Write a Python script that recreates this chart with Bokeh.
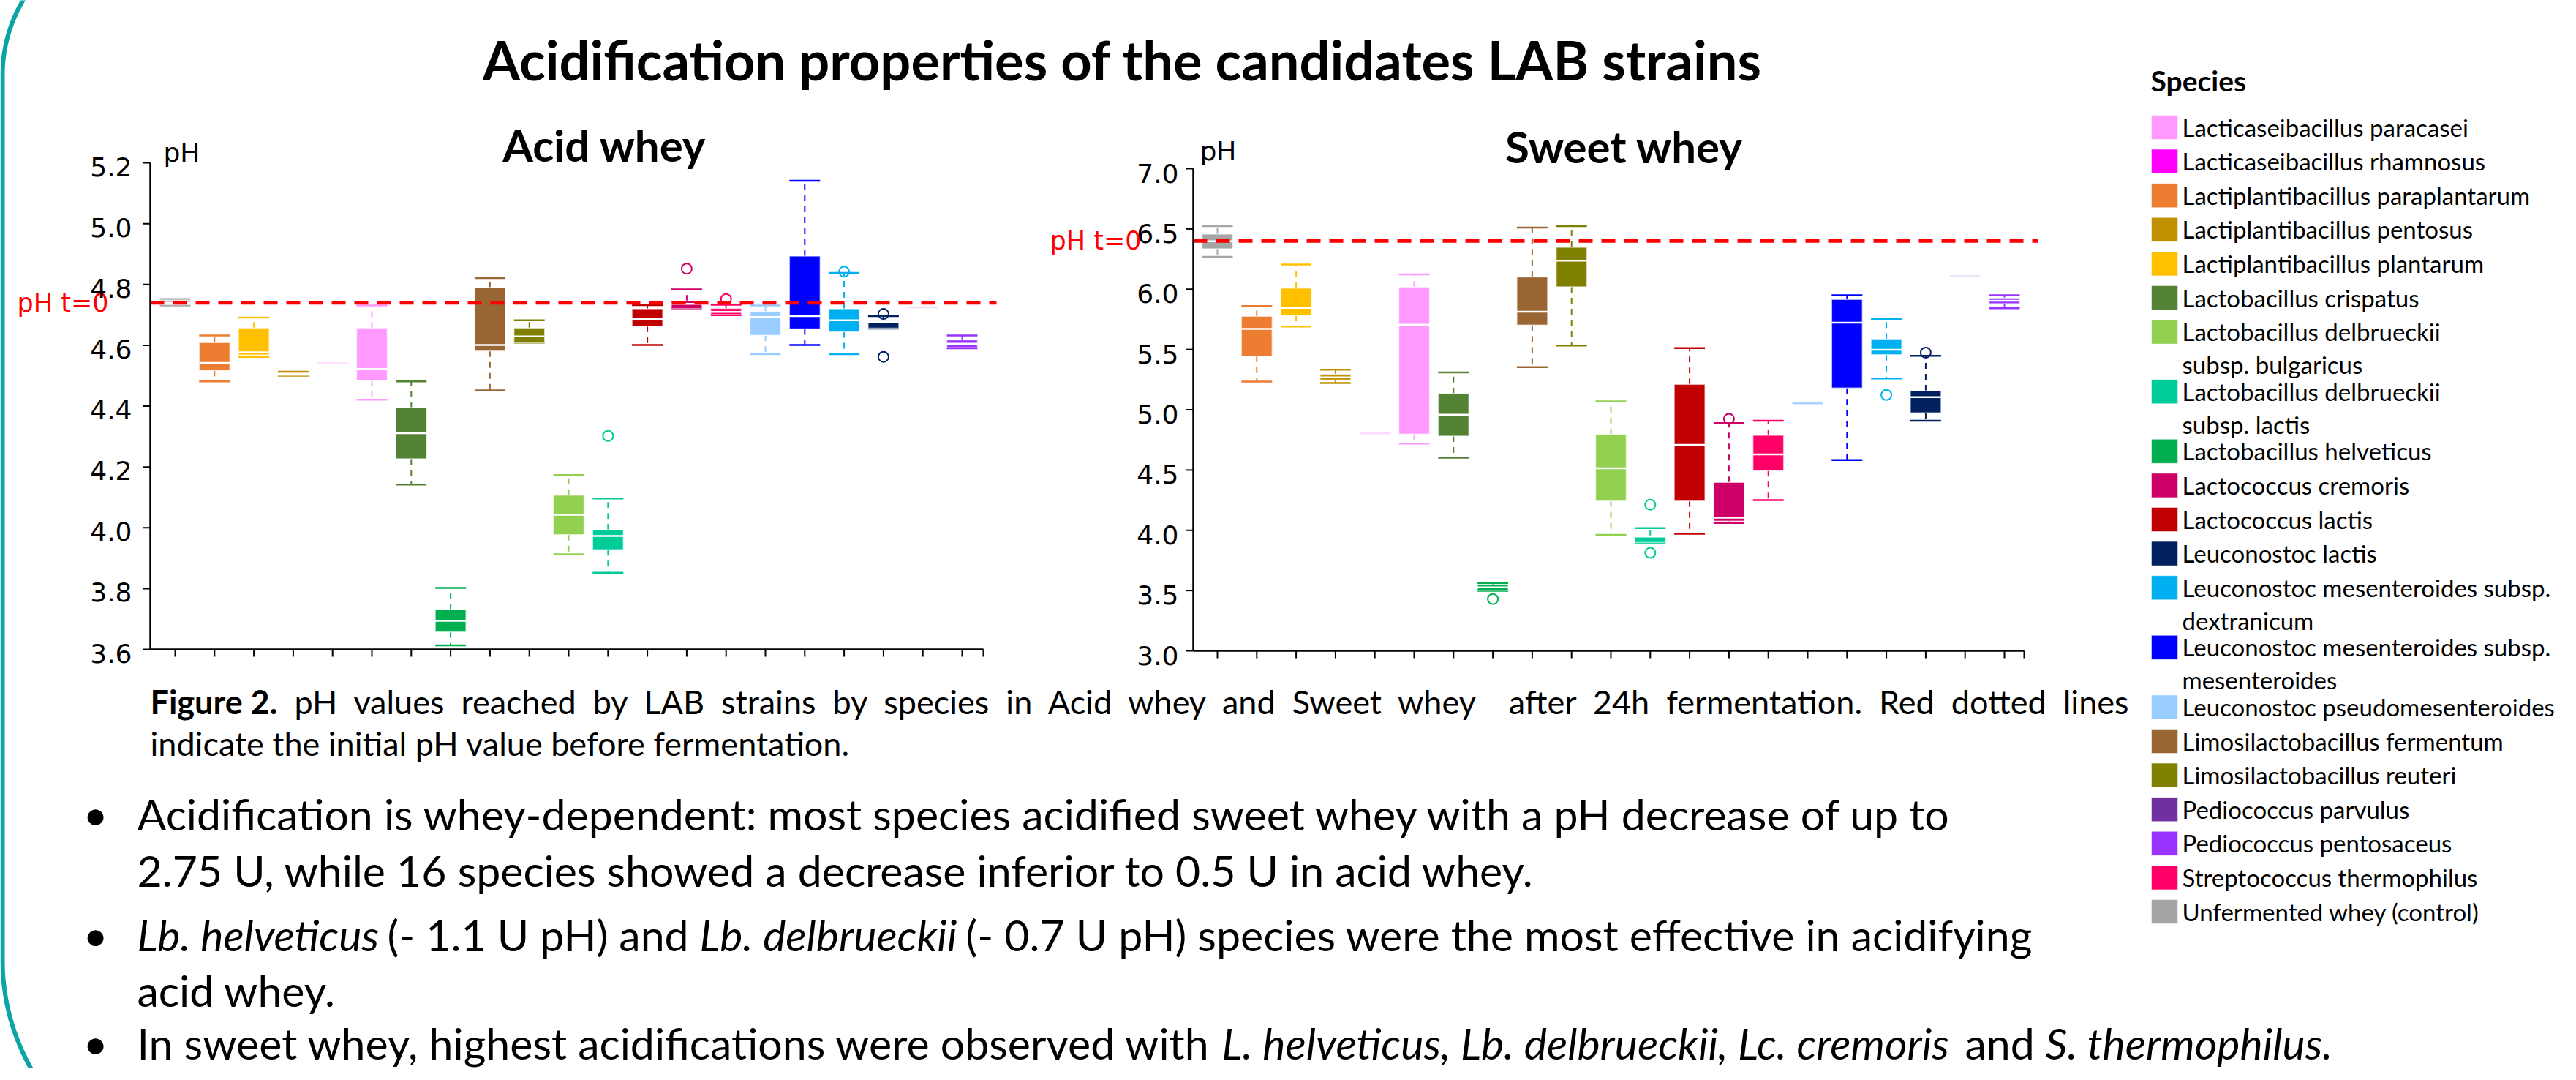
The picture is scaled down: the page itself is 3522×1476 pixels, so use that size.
import numpy as np
from bokeh.plotting import figure
from bokeh.models import Range1d, ColumnDataSource
from bokeh.core.properties import value
from bokeh.embed import file_html
from bokeh.resources import INLINE

# ------------------------------------------------------------------ data
legend_labels = [
    "Lacticaseibacillus paracasei", "Lacticaseibacillus rhamnosus",
    "Lactiplantibacillus paraplantarum", "Lactiplantibacillus pentosus",
    "Lactiplantibacillus plantarum", "Lactobacillus crispatus",
    "Lactobacillus delbrueckii\nsubsp. bulgaricus", "Lactobacillus delbrueckii\nsubsp. lactis",
    "Lactobacillus helveticus", "Lactococcus cremoris", "Lactococcus lactis",
    "Leuconostoc lactis", "Leuconostoc mesenteroides subsp.\ndextranicum",
    "Leuconostoc mesenteroides subsp.\nmesenteroides", "Leuconostoc pseudomesenteroides",
    "Limosilactobacillus fermentum", "Limosilactobacillus reuteri", "Pediococcus parvulus",
    "Pediococcus pentosaceus", "Streptococcus thermophilus", "Unfermented whey (control)",
]
legend_colors = [
    "#FF99FF", "#FF00FF", "#ED7D31", "#BF9000", "#FFC000", "#548235", "#92D050",
    "#00CC99", "#00B050", "#CC0066", "#C00000", "#002060", "#00B0F0", "#0000FF",
    "#99CCFF", "#996633", "#808000", "#7030A0", "#9933FF", "#FF0066", "#A5A5A5",
]
# species in the order of the x axis (positions 1..21), same for both wheys
chart_species = [
    "Unfermented whey (control)", "Lactiplantibacillus paraplantarum",
    "Lactiplantibacillus plantarum", "Lactiplantibacillus pentosus",
    "Lacticaseibacillus rhamnosus", "Lacticaseibacillus paracasei",
    "Lactobacillus crispatus", "Lactobacillus helveticus",
    "Limosilactobacillus fermentum", "Limosilactobacillus reuteri",
    "Lactobacillus delbrueckii subsp. bulgaricus", "Lactobacillus delbrueckii subsp. lactis",
    "Lactococcus lactis", "Lactococcus cremoris", "Streptococcus thermophilus",
    "Leuconostoc pseudomesenteroides", "Leuconostoc mesenteroides subsp. mesenteroides",
    "Leuconostoc mesenteroides subsp. dextranicum", "Leuconostoc lactis",
    "Pediococcus parvulus", "Pediococcus pentosaceus",
]

acid_lower  = [4.731, 4.481, 4.562, 4.500, 4.541, 4.421, 4.142, 3.613, 4.452, 4.609, 3.913,
               3.852, 4.601, 4.720, 4.699, 4.571, 4.601, 4.571, 4.655, 4.725, 4.590]
acid_q1     = [4.733, 4.517, 4.568, 4.501, 4.541, 4.484, 4.227, 3.657, 4.581, 4.609, 3.977,
               3.928, 4.663, 4.720, 4.701, 4.633, 4.654, 4.644, 4.656, 4.725, 4.592]
acid_median = [4.740, 4.542, 4.577, 4.505, 4.541, 4.522, 4.311, 3.694, 4.601, 4.629, 4.043,
               3.973, 4.687, 4.736, 4.710, 4.693, 4.696, 4.682, 4.677, 4.725, 4.605]
acid_q3     = [4.748, 4.609, 4.657, 4.510, 4.541, 4.657, 4.395, 3.731, 4.790, 4.657, 4.107,
               3.993, 4.720, 4.746, 4.721, 4.711, 4.893, 4.720, 4.680, 4.725, 4.618]
acid_upper  = [4.752, 4.632, 4.691, 4.513, 4.541, 4.731, 4.481, 3.802, 4.821, 4.682, 4.173,
               4.096, 4.732, 4.784, 4.733, 4.731, 5.141, 4.838, 4.696, 4.725, 4.632]
acid_outlier_pos = [12, 14, 15, 18, 19, 19]
acid_outlier_ph  = [4.302, 4.852, 4.752, 4.842, 4.703, 4.562]
acid_initial_ph = 4.74
acid_yticks = [3.6, 3.8, 4.0, 4.2, 4.4, 4.6, 4.8, 5.0, 5.2]

sweet_lower  = [6.269, 5.234, 5.690, 5.222, 4.804, 4.719, 4.602, 3.497, 5.354, 5.532, 3.962,
                3.895, 3.971, 4.061, 4.251, 5.053, 4.582, 5.260, 4.909, 6.108, 5.842]
sweet_q1     = [6.336, 5.444, 5.781, 5.246, 4.804, 4.798, 4.781, 3.503, 5.702, 6.020, 4.243,
                3.898, 4.243, 4.076, 4.494, 5.053, 5.181, 5.456, 4.974, 6.108, 5.880]
sweet_median = [6.398, 5.670, 5.845, 5.269, 4.804, 5.705, 4.959, 3.526, 5.813, 6.237, 4.515,
                3.948, 4.708, 4.105, 4.629, 5.053, 5.722, 5.497, 5.105, 6.108, 5.904]
sweet_q3     = [6.456, 5.775, 6.009, 5.295, 4.804, 6.018, 5.135, 3.550, 6.102, 6.348, 4.795,
                3.955, 5.211, 4.398, 4.787, 5.053, 5.915, 5.588, 5.158, 6.108, 5.927]
sweet_upper  = [6.523, 5.860, 6.205, 5.333, 4.804, 6.123, 5.310, 3.561, 6.512, 6.523, 5.070,
                4.018, 5.512, 4.889, 4.909, 5.053, 5.950, 5.751, 5.447, 6.108, 5.950]
sweet_outlier_pos = [8, 12, 12, 14, 18, 19]
sweet_outlier_ph  = [3.430, 4.213, 3.813, 4.924, 5.123, 5.474]
sweet_initial_ph = 6.40
sweet_yticks = [3.0, 3.5, 4.0, 4.5, 5.0, 5.5, 6.0, 6.5, 7.0]

main_title = "Acidification properties of the candidates LAB strains"
acid_title = "Acid whey"
sweet_title = "Sweet whey"
legend_title = "Species"
caption_bold = "Figure 2."
caption_line1 = ("pH values reached by LAB strains by species in Acid whey and Sweet whey  "
                 "after 24h fermentation. Red dotted lines")
caption_line2 = "indicate the initial pH value before fermentation."
bullet_lines = [
    [("Acidification is whey-dependent: most species acidified sweet whey with a pH decrease of up to", "normal")],
    [("2.75 U, while 16 species showed a decrease inferior to 0.5 U in acid whey.", "normal")],
    [("Lb. helveticus", "italic"), ("(- 1.1 U pH) and", "normal"), ("Lb. delbrueckii", "italic"),
     ("(- 0.7 U pH) species were the most effective in acidifying", "normal")],
    [("acid whey.", "normal")],
    [("In sweet whey, highest acidifications were observed with", "normal"),
     ("L. helveticus, Lb. delbrueckii, Lc. cremoris", "italic"), ("and", "normal"),
     ("S. thermophilus.", "italic")],
]

# ------------------------------------------------------------------ layout (screen pixels)
W, H = 3506, 1460
X0, Y0 = 8, 8
POSTER_FONT = "Lato"
AXIS_FONT = "DejaVu Sans"
LATO_SHIFT = 0.29   # alphabetic-baseline correction for Lato, in em

geom = {
    "acid": dict(ax0=213, c1=247, c21=1323, ax1=1352, ylo=3.6, ylo_px=895, yhi=5.2, yhi_px=230,
                 dash_end=1370, lab_gap=25, lab_dy=5, ph_dx=18, ph_dy=14, t0_dx=-182,
                 title_px=834, title_base=223),
    "sweet": dict(ax0=1639, c1=1672, c21=2748, ax1=2775, ylo=3.0, ylo_px=897, yhi=7.0, yhi_px=238,
                  dash_end=2794, lab_gap=20, lab_dy=6, ph_dx=9, ph_dy=24, t0_dx=-196,
                  title_px=2228, title_base=225),
}

extra_x, extra_y = {}, {}
for key, g in geom.items():
    g["ppc"] = (g["c21"] - g["c1"]) / 20.0
    g["pph"] = (g["ylo_px"] - g["yhi_px"]) / (g["yhi"] - g["ylo"])
    xs = 1 - (g["c1"] - X0) / g["ppc"]
    extra_x[key] = Range1d(xs, xs + W / g["ppc"])
    ys = g["ylo"] - (Y0 + H - g["ylo_px"]) / g["pph"]
    extra_y[key] = Range1d(ys, ys + H / g["pph"])

p = figure(width=W, height=H, x_range=Range1d(X0, X0 + W), y_range=Range1d(Y0 + H, Y0),
           x_axis_type=None, y_axis_type=None, toolbar_location=None, output_backend="svg",
           min_border=0, outline_line_color=None, background_fill_color="white",
           border_fill_color="white")
p.extra_x_ranges = extra_x
p.extra_y_ranges = extra_y

color_of = {lab.replace("\n", " "): c for lab, c in zip(legend_labels, legend_colors)}


def lato(x, y, txt, size, style="normal", align="left"):
    """Poster text in Lato, y is the wanted baseline in screen pixels."""
    p.text(x=[x], y=[y - LATO_SHIFT * size], text=[txt], text_align=align,
           text_baseline="alphabetic", text_font=value(POSTER_FONT),
           text_font_style=value(style), text_font_size=f"{size}px", text_color="black")


def luminance(hexcol):
    r, g_, b = (int(hexcol[i:i + 2], 16) / 255 for i in (1, 3, 5))
    return 0.2126 * r + 0.7152 * g_ + 0.0722 * b


def add_chart(key, lower, q1, med, q3, upper, opos, oph, init_ph, yticks, title):
    g = geom[key]
    kw = dict(x_range_name=key, y_range_name=key)
    cat_px = lambda px: 1 + (px - g["c1"]) / g["ppc"]
    x_lo, x_hi = cat_px(g["ax0"]), cat_px(g["ax1"])
    hw = 21.0 / g["ppc"]
    pos = np.arange(1, len(chart_species) + 1)
    colors = [color_of[s] for s in chart_species]
    single = [lo == hi for lo, hi in zip(lower, upper)]
    idx = [i for i, s in enumerate(single) if not s]
    sgl = [i for i, s in enumerate(single) if s]
    src = ColumnDataSource(dict(
        x=pos[idx], left=pos[idx] - hw, right=pos[idx] + hw,
        lw=[lower[i] for i in idx], q1=[q1[i] for i in idx], med=[med[i] for i in idx],
        q3=[q3[i] for i in idx], uw=[upper[i] for i in idx], color=[colors[i] for i in idx]))
    p.segment(x0="x", y0="q3", x1="x", y1="uw", source=src, line_color="color",
              line_width=2, line_dash="8 7", **kw)
    p.segment(x0="x", y0="q1", x1="x", y1="lw", source=src, line_color="color",
              line_width=2, line_dash="8 7", **kw)
    p.segment(x0="left", y0="uw", x1="right", y1="uw", source=src, line_color="color",
              line_width=2.5, **kw)
    p.segment(x0="left", y0="lw", x1="right", y1="lw", source=src, line_color="color",
              line_width=2.5, **kw)
    p.vbar(x="x", width=2 * hw, bottom="q1", top="q3", source=src, fill_color="color",
           line_color="white", line_alpha=0.6, line_width=1.5, **kw)
    p.segment(x0="left", y0="med", x1="right", y1="med", source=src, line_color="white",
              line_width=2.5, **kw)
    # groups with a single strain: a faint line
    p.segment(x0=[pos[i] - hw for i in sgl], y0=[med[i] for i in sgl],
              x1=[pos[i] + hw for i in sgl], y1=[med[i] for i in sgl],
              line_color=[colors[i] for i in sgl],
              line_alpha=[0.85 if luminance(colors[i]) > 0.6 else 0.15 for i in sgl],
              line_width=2.5, **kw)
    # outliers
    p.scatter(x=opos, y=oph, marker="circle", size=14, fill_color=None,
              line_color=[colors[i - 1] for i in opos], line_width=2, **kw)
    # initial pH
    p.segment(x0=[x_lo], y0=[init_ph], x1=[cat_px(g["dash_end"])], y1=[init_ph],
              line_color="#FF0000", line_width=5, line_dash="19 12", **kw)
    p.text(x=[x_lo], y=[init_ph], text=["pH t=0"], x_offset=g["t0_dx"], text_align="left",
           text_baseline="middle", text_color="#FF0000", text_font=value(AXIS_FONT),
           text_font_size="35px", **kw)
    # axes
    tdx, tdy = 10.0 / g["ppc"], 10.0 / g["pph"]
    p.segment(x0=[x_lo], y0=[g["ylo"]], x1=[x_hi], y1=[g["ylo"]], line_color="black",
              line_width=2.5, **kw)
    p.segment(x0=[x_lo], y0=[g["ylo"]], x1=[x_lo], y1=[g["yhi"]], line_color="black",
              line_width=2.5, **kw)
    xt = list(pos) + [x_hi]
    p.segment(x0=xt, y0=[g["ylo"]] * len(xt), x1=xt, y1=[g["ylo"] - tdy] * len(xt),
              line_color="black", line_width=2, **kw)
    p.segment(x0=[x_lo - tdx] * len(yticks), y0=yticks, x1=[x_lo] * len(yticks), y1=yticks,
              line_color="black", line_width=2, **kw)
    p.text(x=[x_lo] * len(yticks), y=yticks, text=[f"{t:.1f}" for t in yticks],
           x_offset=-g["lab_gap"], y_offset=g["lab_dy"], text_align="right",
           text_baseline="alphabetic", text_font=value(AXIS_FONT), text_font_size="36px",
           text_color="black", **kw)
    p.text(x=[x_lo], y=[g["yhi"]], text=["pH"], x_offset=g["ph_dx"], y_offset=-g["ph_dy"],
           text_align="left", text_baseline="alphabetic", text_font=value(AXIS_FONT),
           text_font_size="36px", text_color="black", **kw)
    lato(g["title_px"], g["title_base"], title, 60, "bold", "center")


add_chart("acid", acid_lower, acid_q1, acid_median, acid_q3, acid_upper,
          acid_outlier_pos, acid_outlier_ph, acid_initial_ph, acid_yticks, acid_title)
add_chart("sweet", sweet_lower, sweet_q1, sweet_median, sweet_q3, sweet_upper,
          sweet_outlier_pos, sweet_outlier_ph, sweet_initial_ph, sweet_yticks, sweet_title)

# main title
lato(1542, 110, main_title, 74, "bold", "center")

# legend
lato(2948, 129, legend_title, 39, "bold")
tops, lx, ly, lt = [], [], [], []
top = 165.0
for lab in legend_labels:
    lines = lab.split("\n")
    tops.append(top)
    for k, ln in enumerate(lines):
        lx.append(2991)
        ly.append(top + 16 + 45 * k)
        lt.append(ln)
    top += 46.6 + 35.0 * (len(lines) - 1)
p.quad(left=[2949] * len(tops), right=[2985] * len(tops), top=tops,
       bottom=[t + 33 for t in tops], fill_color=legend_colors, line_color="white",
       line_alpha=0.5, line_width=1)
p.text(x=lx, y=ly, text=lt, text_align="left", text_baseline="middle",
       text_font=value(POSTER_FONT), text_font_size="33px", text_color="black")

# caption: first line is justified in the figure, emulate it with widened word gaps
CAP = 45
lato(213, 980, caption_bold, CAP, "bold")
lato(410, 980, caption_line1.replace(" ", " \u00a0"), CAP)
lato(213, 1037, caption_line2, CAP)

# bullets
BUL = 59
line_base = [1137, 1214, 1302, 1378, 1450]
seg_x = [[195], [195], [195, 537, 964, 1328], [195], [195, 1678, 2694, 2804]]
for segs, xs, yb in zip(bullet_lines, seg_x, line_base):
    for (txt, sty), x in zip(segs, xs):
        lato(x, yb, txt, BUL, sty)
for yb in (line_base[0], line_base[2], line_base[4]):
    lato(121, yb, "\u2022", BUL)

# teal frame on the left edge of the poster
t1 = np.linspace(0.0, 0.62, 30)
top_x = 11 + 200 - 200 * np.cos(t1)
top_y = 110 - 200 * np.sin(t1)
t2 = np.linspace(0.0, 0.56, 30)
bot_x = 11 + 300 - 300 * np.cos(t2)
bot_y = 1320 + 300 * np.sin(t2)
fx = np.concatenate([top_x[::-1], bot_x])
fy = np.concatenate([top_y[::-1], bot_y])
p.line(fx, fy, line_color="#0AA4A6", line_width=6)

open("out.html", "w").write(file_html(p, INLINE, "Acidification properties"))
